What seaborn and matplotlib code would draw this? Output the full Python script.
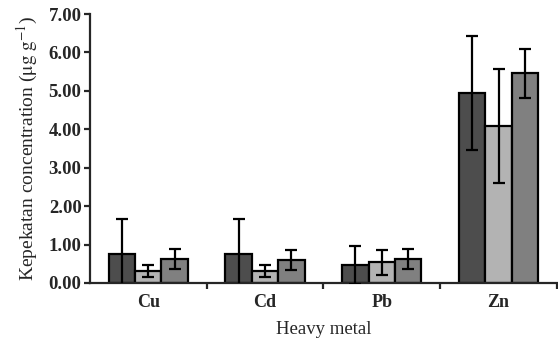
import numpy as np
import pandas as pd
import matplotlib
matplotlib.use("Agg")
import matplotlib.pyplot as plt
import seaborn as sns

metals = ["Cu", "Cd", "Pb", "Zn"]
groups = ["A", "B", "C"]
vals_a = [0.76, 0.76, 0.46, 4.95]
vals_b = [0.31, 0.31, 0.54, 4.08]
vals_c = [0.62, 0.61, 0.62, 5.46]
err_a = [0.90, 0.90, 0.49, 1.48]
err_b = [0.15, 0.15, 0.33, 1.49]
err_c = [0.26, 0.26, 0.26, 0.64]
yticks = [0, 1, 2, 3, 4, 5, 6, 7]

df = pd.DataFrame({
    "metal": metals * 3,
    "group": [g for g in groups for _ in metals],
    "value": vals_a + vals_b + vals_c,
    "err": err_a + err_b + err_c,
})

sns.set_style("ticks")
plt.rcParams["font.family"] = ["Liberation Serif", "DejaVu Serif"]
plt.rcParams["mathtext.fontset"] = "stix"

fig, ax = plt.subplots(figsize=(5.58, 3.43), dpi=100)
fig.subplots_adjust(left=0.161, right=0.998, bottom=0.175, top=0.959)

palette = {"A": "#4d4d4d", "B": "#b3b3b3", "C": "#808080"}
sns.barplot(data=df, x="metal", y="value", hue="group", order=metals,
            hue_order=groups, palette=palette, width=0.68, errorbar=None,
            edgecolor="black", linewidth=1.6, legend=False, ax=ax, saturation=1)

# error bars from data, placed at bar centers
for container, g in zip(ax.containers, groups):
    sub = df[df["group"] == g].set_index("metal").loc[metals]
    xs = [p.get_x() + p.get_width() / 2 for p in container.patches]
    ax.errorbar(xs, sub["value"].values, yerr=sub["err"].values, fmt="none",
                ecolor="black", elinewidth=1.6, capsize=4, capthick=1.6,
                zorder=5)

ax.set_xlim(-0.5, 3.5)
ax.set_ylim(0, 7)
ax.set_yticks(yticks)
ax.set_yticklabels([f"{v:.2f}" for v in yticks], fontweight="bold", fontsize=13.5)
ax.set_xticks([0.5, 1.5, 2.5, 3.5])
ax.set_xticklabels([])
ax.set_xticks(range(len(metals)), minor=True)
ax.set_xticklabels(metals, minor=True, fontweight="bold", fontsize=13)
ax.tick_params(axis="x", which="minor", length=0, pad=8)
ax.tick_params(axis="both", which="major", length=4, width=1.6, direction="out")
ax.tick_params(axis="y", pad=2)
for s in ["left", "bottom"]:
    ax.spines[s].set_linewidth(1.6)
sns.despine(ax=ax)

ax.set_xlabel("Heavy metal", fontsize=13.5, labelpad=7)
ax.set_ylabel(r"Kepekatan concentration ($\mathrm{\mu g\ g^{-1}}$)", fontsize=14, labelpad=6)

fig.savefig("out.png", dpi=100)
